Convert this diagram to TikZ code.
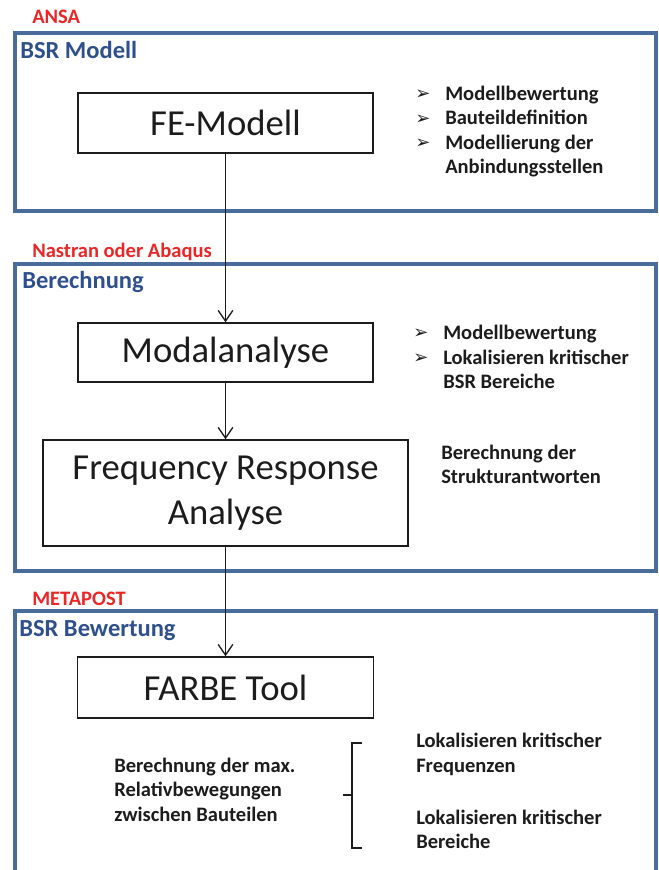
\documentclass[tikz,border=0pt]{standalone}
\usepackage{fontspec}
\setmainfont{Carlito}
\newfontfamily\symfont{DejaVu Sans}
\usetikzlibrary{arrows.meta}
\definecolor{framec}{RGB}{74,108,155}
\definecolor{headc}{RGB}{46,80,140}
\definecolor{redc}{RGB}{236,38,38}
\definecolor{txtc}{RGB}{28,28,28}
\newcommand{\bul}{\makebox[22.5pt][l]{\raisebox{0.5pt}{\symfont\fontsize{13.5}{13.5}\selectfont ➢}}}
\begin{document}
\begin{tikzpicture}[x=0.75pt,y=-0.75pt,
  frame/.style={draw=framec,line width=2.3pt},
  procbox/.style={draw=txtc, line width=1.1pt, font=\fontsize{27.5}{33.5}\selectfont, text=txtc, align=center, inner sep=0pt},
  head/.style={font=\bfseries\fontsize{18.4}{22}\selectfont, text=headc, anchor=west, inner sep=0pt},
  tool/.style={font=\bfseries\fontsize{15.4}{18}\selectfont, text=redc, anchor=west, inner sep=0pt},
  note/.style={font=\bfseries\fontsize{15.4}{18.4}\selectfont, text=txtc, anchor=west, align=left, inner sep=0pt},
  flow/.style={draw=txtc, line width=1pt, -{Straight Barb[length=8pt,width=11pt]}},
  brace/.style={draw=txtc, line width=1.5pt}
]
\useasboundingbox (0,0) rectangle (659,870);
% frames
\draw[frame] (15,33) rectangle (656,211);
\draw[frame] (15,264) rectangle (656,571);
\draw[frame] (15,870) -- (15,611) -- (656,611) -- (656,870);
% tool labels and headers
\node[tool] (ansa) at (32,17) {ANSA};
\node[head] (h1) at (20,50) {BSR Modell};
\node[tool] (nastran) at (32,252) {Nastran oder Abaqus};
\node[head] (h2) at (22,282) {Berechnung};
\node[tool] (metapost) at (32,599) {METAPOST};
\node[head] (h3) at (19,631) {BSR Bewertung};
% process boxes
\node[procbox, minimum width=221.25pt, minimum height=45pt] (fe) at (225.5,123) {FE-Modell};
\node[procbox, minimum width=221.25pt, minimum height=44.25pt] (modal) at (225.5,352.5) {Modalanalyse};
\node[procbox, minimum width=273.75pt, minimum height=79.5pt] (fra) at (225.5,493) {Frequency Response\\Analyse};
\node[procbox, minimum width=222pt, minimum height=45.75pt] (farbe) at (225.5,687.5) {FARBE Tool};
% connectors
\draw[flow] (fe.south) -- (modal.north);
\draw[flow] (modal.south) -- (fra.north);
\draw[flow] (fra.south) -- (farbe.north);
% notes
\node[note] (list1) at (415,131.5) {\bul Modellbewertung\\\bul Bauteildefinition\\\bul Modellierung der\\\hspace*{22.5pt}Anbindungsstellen};
\node[note] (list2) at (413,357) {\bul Modellbewertung\\\bul Lokalisieren kritischer\\\hspace*{22.5pt}BSR Bereiche};
\node[note, font=\bfseries\fontsize{15.4}{18}\selectfont] (struct) at (441,464) {Berechnung der\\Strukturantworten};
\node[note] (relbew) at (114,789.5) {Berechnung der max.\\Relativbewegungen\\zwischen Bauteilen};
\node[note] (freq) at (416,754.5) {Lokalisieren kritischer\\Frequenzen};
\node[note] (bereich) at (416,829.5) {Lokalisieren kritischer\\Bereiche};
% bracket
\draw[brace] (362,743) -- (352,743) -- (352,848) -- (362,848);
\draw[brace] (343,795) -- (352,795);
\end{tikzpicture}
\end{document}
